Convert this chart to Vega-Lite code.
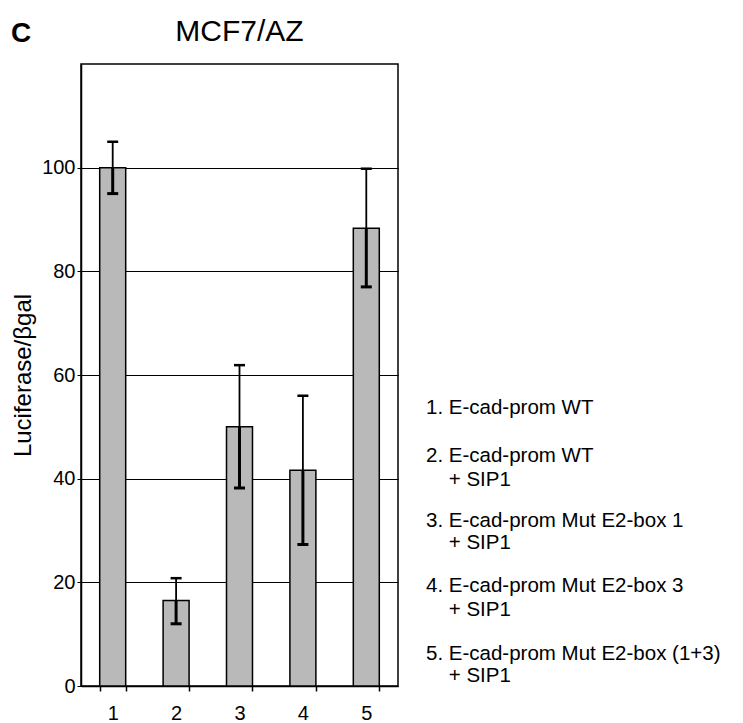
{
  "$schema": "https://vega.github.io/schema/vega-lite/v6.json",
  "padding": {"left": 10, "top": 16, "right": 0, "bottom": 0},
  "title": {"text": "C", "anchor": "start", "frame": "bounds", "fontSize": 28, "fontWeight": "bold", "font": "Liberation Sans", "color": "black", "dy": 32, "dx": 0, "offset": 0},
  "config": {
    "font": "Liberation Sans",
    "view": {"stroke": "black", "strokeWidth": 1.5},
    "axis": {"labelFont": "Liberation Sans", "titleFont": "Liberation Sans", "labelColor": "black", "titleColor": "black", "domainColor": "black", "tickColor": "black", "gridColor": "black", "gridOpacity": 1}
  },
  "datasets": {
    "bars": [
      {"id": "1", "value": 100, "lo": 95, "hi": 105},
      {"id": "2", "value": 16.5, "lo": 12, "hi": 20.8},
      {"id": "3", "value": 50, "lo": 38.2, "hi": 61.9},
      {"id": "4", "value": 41.6, "lo": 27.3, "hi": 56},
      {"id": "5", "value": 88.3, "lo": 77, "hi": 99.8}
    ],
    "legend": [
      {"label": "1. E-cad-prom WT", "indent": 0, "pos": 15.64},
      {"label": "2. E-cad-prom WT", "indent": 0, "pos": 17.82},
      {"label": "+ SIP1", "indent": 1, "pos": 18.91},
      {"label": "3. E-cad-prom Mut E2-box 1", "indent": 0, "pos": 20.77},
      {"label": "+ SIP1", "indent": 1, "pos": 21.77},
      {"label": "4. E-cad-prom Mut E2-box 3", "indent": 0, "pos": 23.73},
      {"label": "+ SIP1", "indent": 1, "pos": 24.82},
      {"label": "5. E-cad-prom Mut E2-box (1+3)", "indent": 0, "pos": 26.82},
      {"label": "+ SIP1", "indent": 1, "pos": 27.82}
    ]
  },
  "spacing": 27,
  "hconcat": [
    {
      "width": 317,
      "height": 622,
      "title": {"text": "MCF7/AZ", "fontSize": 30, "fontWeight": "normal", "anchor": "middle", "offset": 17, "color": "black", "font": "Liberation Sans"},
      "data": {"name": "bars"},
      "encoding": {
        "x": {
          "field": "id", "type": "nominal",
          "scale": {"paddingInner": 0.59, "paddingOuter": 0.295},
          "axis": {"title": null, "labelAngle": 0, "labelFontSize": 20, "tickBand": "extent", "tickSize": 5, "labelPadding": 12, "domainWidth": 1.5, "tickWidth": 1.5}
        }
      },
      "layer": [
        {
          "mark": {"type": "bar", "fill": "#b9b9b9", "stroke": "black", "strokeWidth": 1.5},
          "encoding": {
            "y": {
              "field": "value", "type": "quantitative",
              "scale": {"domain": [0, 120], "nice": false},
              "axis": {"values": [0, 20, 40, 60, 80, 100], "title": "Luciferase/βgal", "titleFontSize": 24, "titleFontWeight": "normal", "labelFontSize": 20, "tickSize": 4, "labelPadding": 2, "titlePadding": 6, "grid": true, "gridWidth": 1.2, "domainWidth": 1.5}
            }
          }
        },
        {
          "mark": {"type": "rule", "color": "black", "strokeWidth": 1.8},
          "encoding": {
            "y": {"field": "value", "type": "quantitative"},
            "y2": {"field": "hi"}
          }
        },
        {
          "mark": {"type": "rule", "color": "black", "strokeWidth": 3},
          "encoding": {
            "y": {"field": "lo", "type": "quantitative"},
            "y2": {"field": "value"}
          }
        },
        {
          "mark": {"type": "tick", "color": "black", "size": 11, "thickness": 2.5, "opacity": 1},
          "encoding": {
            "y": {"field": "hi", "type": "quantitative"}
          }
        },
        {
          "mark": {"type": "tick", "color": "black", "size": 11, "thickness": 3, "opacity": 1},
          "encoding": {
            "y": {"field": "lo", "type": "quantitative"}
          }
        }
      ]
    },
    {
      "width": 318,
      "height": 622,
      "view": {"stroke": null},
      "data": {"name": "legend"},
      "mark": {"type": "text", "align": "left", "baseline": "middle", "fontSize": 20.5, "font": "Liberation Sans", "color": "black"},
      "encoding": {
        "x": {"field": "indent", "type": "quantitative", "scale": {"domain": [0, 14]}, "axis": null},
        "y": {"field": "pos", "type": "quantitative", "scale": {"domain": [0, 28.27], "reverse": true, "nice": false}, "axis": null},
        "text": {"field": "label"}
      }
    }
  ]
}
